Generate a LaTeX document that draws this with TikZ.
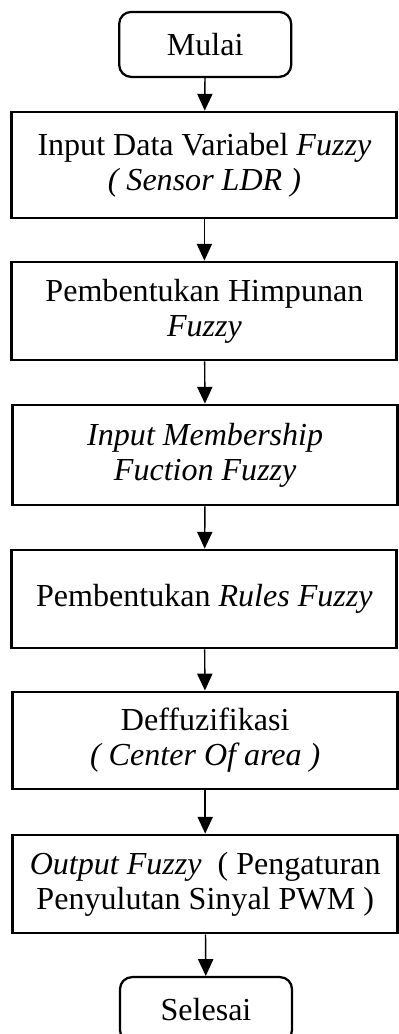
\documentclass[tikz,border=0pt]{standalone}
\usepackage{fontspec}
\setmainfont{Liberation Serif}
\usetikzlibrary{arrows.meta}

\begin{document}
\begin{tikzpicture}[
  proc/.style={draw, line width=2pt, minimum width=9.625cm, align=center,
               inner sep=0pt, font=\fontsize{22.8}{25}\selectfont},
  term/.style={draw, line width=1.6pt, rounded corners=0.3cm, minimum width=4.3cm,
               minimum height=1.625cm, font=\fontsize{22.8}{25}\selectfont},
  >={Triangle[length=0.42cm,width=0.38cm]}
]
  \useasboundingbox (0,0) rectangle (9.95,-25.85);

  \node[term] (mulai) at (5.13,-1.11) {Mulai};

  \node[proc, minimum height=2.65cm] (input) at (5.11,-4.125)
    {Input Data Variabel \textit{Fuzzy}\\\textit{( Sensor LDR )}};

  \node[proc, minimum height=2.45cm] (himpunan) at (5.11,-7.775)
    {Pembentukan Himpunan\\\textit{Fuzzy}};

  \node[proc, minimum height=2.5cm] (membership) at (5.13,-11.375)
    {\textit{Input Membership}\\\textit{Fuction Fuzzy}};

  \node[proc, minimum height=2.45cm] (rules) at (5.11,-14.975)
    {Pembentukan \textit{Rules Fuzzy}};

  \node[proc, minimum height=2.425cm] (defuzz) at (5.13,-18.51)
    {Deffuzifikasi\\\textit{( Center Of area )}};

  \node[proc, minimum height=2.45cm] (output) at (5.13,-22.1)
    {\textit{Output Fuzzy}\ \ ( Pengaturan\\Penyulutan Sinyal PWM )};

  \node[term] (selesai) at (5.15,-25.24) {Selesai};

  \draw[->,line width=1pt] (mulai) -- (input);
  \draw[->,line width=1pt] (input) -- (himpunan);
  \draw[->,line width=1pt] (himpunan) -- (membership);
  \draw[->,line width=1pt] (membership) -- (rules);
  \draw[->,line width=1pt] (rules) -- (defuzz);
  \draw[->,line width=1pt] (defuzz) -- (output);
  \draw[->,line width=1pt] (output) -- (selesai);
\end{tikzpicture}
\end{document}
